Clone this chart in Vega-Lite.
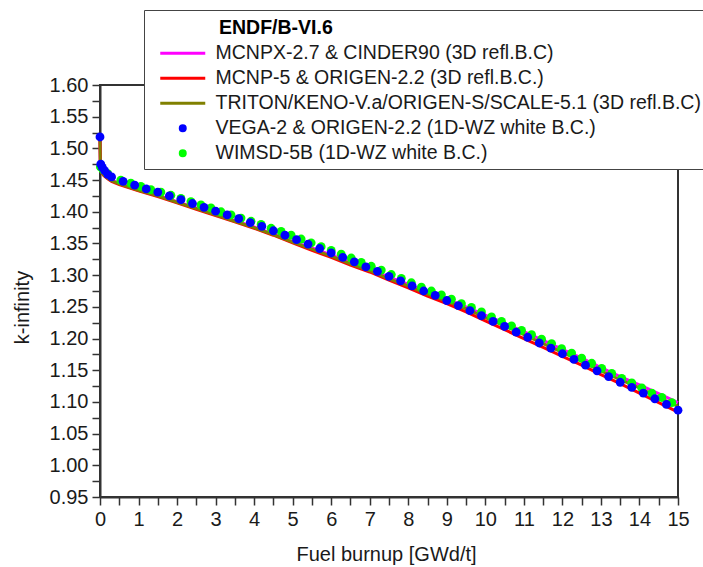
{
  "$schema": "https://vega.github.io/schema/vega-lite/v6.json",
  "width": 578,
  "height": 412,
  "autosize": {"type": "none"},
  "padding": {"left": 100, "top": 85, "right": 25, "bottom": 70},
  "background": "white",
  "config": {
    "font": "Liberation Sans",
    "view": {"stroke": "#333", "strokeWidth": 2},
    "axis": {"grid": false, "domainColor": "#333", "domainWidth": 2, "tickColor": "#333", "tickWidth": 1.5, "tickSize": 8, "labelColor": "#1a1a1a", "titleColor": "#1a1a1a", "labelFontSize": 20, "titleFontSize": 20, "titleFontWeight": "normal", "labelOverlap": false, "labelFlush": false},
    "legend": {
      "orient": "none", "legendX": 44, "legendY": -75, "direction": "vertical",
      "titleFontSize": 19.5, "titleFontWeight": "bold", "titleColor": "#000", "titlePadding": 8,
      "labelFontSize": 19.5, "labelColor": "#1a1a1a", "labelOffset": 23, "labelLimit": 700,
      "symbolOffset": 23, "symbolStrokeWidth": 3, "symbolSize": 25, "rowPadding": 4, "padding": 6,
      "strokeColor": "#444", "fillColor": "white"
    }
  },
  "data": {"values": [
    {"series": "MCNPX-2.7 & CINDER90 (3D refl.B.C)", "burnup": 0, "kinf": 1.514},
    {"series": "MCNPX-2.7 & CINDER90 (3D refl.B.C)", "burnup": 0.01, "kinf": 1.470},
    {"series": "MCNPX-2.7 & CINDER90 (3D refl.B.C)", "burnup": 0.03, "kinf": 1.465},
    {"series": "MCNPX-2.7 & CINDER90 (3D refl.B.C)", "burnup": 0.06, "kinf": 1.462},
    {"series": "MCNPX-2.7 & CINDER90 (3D refl.B.C)", "burnup": 0.1, "kinf": 1.459},
    {"series": "MCNPX-2.7 & CINDER90 (3D refl.B.C)", "burnup": 0.2, "kinf": 1.454},
    {"series": "MCNPX-2.7 & CINDER90 (3D refl.B.C)", "burnup": 0.3, "kinf": 1.450},
    {"series": "MCNPX-2.7 & CINDER90 (3D refl.B.C)", "burnup": 0.5, "kinf": 1.445},
    {"series": "MCNPX-2.7 & CINDER90 (3D refl.B.C)", "burnup": 1.0, "kinf": 1.435},
    {"series": "MCNPX-2.7 & CINDER90 (3D refl.B.C)", "burnup": 1.5, "kinf": 1.426},
    {"series": "MCNPX-2.7 & CINDER90 (3D refl.B.C)", "burnup": 2.0, "kinf": 1.416},
    {"series": "MCNPX-2.7 & CINDER90 (3D refl.B.C)", "burnup": 2.5, "kinf": 1.406},
    {"series": "MCNPX-2.7 & CINDER90 (3D refl.B.C)", "burnup": 3.0, "kinf": 1.396},
    {"series": "MCNPX-2.7 & CINDER90 (3D refl.B.C)", "burnup": 3.5, "kinf": 1.386},
    {"series": "MCNPX-2.7 & CINDER90 (3D refl.B.C)", "burnup": 4.0, "kinf": 1.376},
    {"series": "MCNPX-2.7 & CINDER90 (3D refl.B.C)", "burnup": 4.5, "kinf": 1.365},
    {"series": "MCNPX-2.7 & CINDER90 (3D refl.B.C)", "burnup": 5.0, "kinf": 1.353},
    {"series": "MCNPX-2.7 & CINDER90 (3D refl.B.C)", "burnup": 5.5, "kinf": 1.343},
    {"series": "MCNPX-2.7 & CINDER90 (3D refl.B.C)", "burnup": 6.0, "kinf": 1.332},
    {"series": "MCNPX-2.7 & CINDER90 (3D refl.B.C)", "burnup": 6.5, "kinf": 1.320},
    {"series": "MCNPX-2.7 & CINDER90 (3D refl.B.C)", "burnup": 7.0, "kinf": 1.309},
    {"series": "MCNPX-2.7 & CINDER90 (3D refl.B.C)", "burnup": 7.5, "kinf": 1.297},
    {"series": "MCNPX-2.7 & CINDER90 (3D refl.B.C)", "burnup": 8.0, "kinf": 1.286},
    {"series": "MCNPX-2.7 & CINDER90 (3D refl.B.C)", "burnup": 8.5, "kinf": 1.273},
    {"series": "MCNPX-2.7 & CINDER90 (3D refl.B.C)", "burnup": 9.0, "kinf": 1.262},
    {"series": "MCNPX-2.7 & CINDER90 (3D refl.B.C)", "burnup": 9.5, "kinf": 1.250},
    {"series": "MCNPX-2.7 & CINDER90 (3D refl.B.C)", "burnup": 10.0, "kinf": 1.237},
    {"series": "MCNPX-2.7 & CINDER90 (3D refl.B.C)", "burnup": 10.5, "kinf": 1.224},
    {"series": "MCNPX-2.7 & CINDER90 (3D refl.B.C)", "burnup": 11.0, "kinf": 1.211},
    {"series": "MCNPX-2.7 & CINDER90 (3D refl.B.C)", "burnup": 11.5, "kinf": 1.197},
    {"series": "MCNPX-2.7 & CINDER90 (3D refl.B.C)", "burnup": 12.0, "kinf": 1.183},
    {"series": "MCNPX-2.7 & CINDER90 (3D refl.B.C)", "burnup": 12.5, "kinf": 1.169},
    {"series": "MCNPX-2.7 & CINDER90 (3D refl.B.C)", "burnup": 13.0, "kinf": 1.154},
    {"series": "MCNPX-2.7 & CINDER90 (3D refl.B.C)", "burnup": 13.5, "kinf": 1.140},
    {"series": "MCNPX-2.7 & CINDER90 (3D refl.B.C)", "burnup": 14.0, "kinf": 1.127},
    {"series": "MCNPX-2.7 & CINDER90 (3D refl.B.C)", "burnup": 14.5, "kinf": 1.113},
    {"series": "MCNPX-2.7 & CINDER90 (3D refl.B.C)", "burnup": 15.0, "kinf": 1.099},

    {"series": "MCNP-5 & ORIGEN-2.2 (3D refl.B.C.)", "burnup": 0, "kinf": 1.512},
    {"series": "MCNP-5 & ORIGEN-2.2 (3D refl.B.C.)", "burnup": 0.01, "kinf": 1.469},
    {"series": "MCNP-5 & ORIGEN-2.2 (3D refl.B.C.)", "burnup": 0.03, "kinf": 1.463},
    {"series": "MCNP-5 & ORIGEN-2.2 (3D refl.B.C.)", "burnup": 0.06, "kinf": 1.460},
    {"series": "MCNP-5 & ORIGEN-2.2 (3D refl.B.C.)", "burnup": 0.1, "kinf": 1.457},
    {"series": "MCNP-5 & ORIGEN-2.2 (3D refl.B.C.)", "burnup": 0.2, "kinf": 1.452},
    {"series": "MCNP-5 & ORIGEN-2.2 (3D refl.B.C.)", "burnup": 0.3, "kinf": 1.448},
    {"series": "MCNP-5 & ORIGEN-2.2 (3D refl.B.C.)", "burnup": 0.5, "kinf": 1.443},
    {"series": "MCNP-5 & ORIGEN-2.2 (3D refl.B.C.)", "burnup": 1.0, "kinf": 1.433},
    {"series": "MCNP-5 & ORIGEN-2.2 (3D refl.B.C.)", "burnup": 1.5, "kinf": 1.424},
    {"series": "MCNP-5 & ORIGEN-2.2 (3D refl.B.C.)", "burnup": 2.0, "kinf": 1.414},
    {"series": "MCNP-5 & ORIGEN-2.2 (3D refl.B.C.)", "burnup": 2.5, "kinf": 1.404},
    {"series": "MCNP-5 & ORIGEN-2.2 (3D refl.B.C.)", "burnup": 3.0, "kinf": 1.394},
    {"series": "MCNP-5 & ORIGEN-2.2 (3D refl.B.C.)", "burnup": 3.5, "kinf": 1.384},
    {"series": "MCNP-5 & ORIGEN-2.2 (3D refl.B.C.)", "burnup": 4.0, "kinf": 1.374},
    {"series": "MCNP-5 & ORIGEN-2.2 (3D refl.B.C.)", "burnup": 4.5, "kinf": 1.363},
    {"series": "MCNP-5 & ORIGEN-2.2 (3D refl.B.C.)", "burnup": 5.0, "kinf": 1.351},
    {"series": "MCNP-5 & ORIGEN-2.2 (3D refl.B.C.)", "burnup": 5.5, "kinf": 1.339},
    {"series": "MCNP-5 & ORIGEN-2.2 (3D refl.B.C.)", "burnup": 6.0, "kinf": 1.328},
    {"series": "MCNP-5 & ORIGEN-2.2 (3D refl.B.C.)", "burnup": 6.5, "kinf": 1.316},
    {"series": "MCNP-5 & ORIGEN-2.2 (3D refl.B.C.)", "burnup": 7.0, "kinf": 1.305},
    {"series": "MCNP-5 & ORIGEN-2.2 (3D refl.B.C.)", "burnup": 7.5, "kinf": 1.292},
    {"series": "MCNP-5 & ORIGEN-2.2 (3D refl.B.C.)", "burnup": 8.0, "kinf": 1.280},
    {"series": "MCNP-5 & ORIGEN-2.2 (3D refl.B.C.)", "burnup": 8.5, "kinf": 1.267},
    {"series": "MCNP-5 & ORIGEN-2.2 (3D refl.B.C.)", "burnup": 9.0, "kinf": 1.255},
    {"series": "MCNP-5 & ORIGEN-2.2 (3D refl.B.C.)", "burnup": 9.5, "kinf": 1.242},
    {"series": "MCNP-5 & ORIGEN-2.2 (3D refl.B.C.)", "burnup": 10.0, "kinf": 1.228},
    {"series": "MCNP-5 & ORIGEN-2.2 (3D refl.B.C.)", "burnup": 10.5, "kinf": 1.214},
    {"series": "MCNP-5 & ORIGEN-2.2 (3D refl.B.C.)", "burnup": 11.0, "kinf": 1.200},
    {"series": "MCNP-5 & ORIGEN-2.2 (3D refl.B.C.)", "burnup": 11.5, "kinf": 1.186},
    {"series": "MCNP-5 & ORIGEN-2.2 (3D refl.B.C.)", "burnup": 12.0, "kinf": 1.172},
    {"series": "MCNP-5 & ORIGEN-2.2 (3D refl.B.C.)", "burnup": 12.5, "kinf": 1.158},
    {"series": "MCNP-5 & ORIGEN-2.2 (3D refl.B.C.)", "burnup": 13.0, "kinf": 1.143},
    {"series": "MCNP-5 & ORIGEN-2.2 (3D refl.B.C.)", "burnup": 13.5, "kinf": 1.129},
    {"series": "MCNP-5 & ORIGEN-2.2 (3D refl.B.C.)", "burnup": 14.0, "kinf": 1.114},
    {"series": "MCNP-5 & ORIGEN-2.2 (3D refl.B.C.)", "burnup": 14.5, "kinf": 1.099},
    {"series": "MCNP-5 & ORIGEN-2.2 (3D refl.B.C.)", "burnup": 15.0, "kinf": 1.084},

    {"series": "TRITON/KENO-V.a/ORIGEN-S/SCALE-5.1 (3D refl.B.C)", "burnup": 0, "kinf": 1.513},
    {"series": "TRITON/KENO-V.a/ORIGEN-S/SCALE-5.1 (3D refl.B.C)", "burnup": 0.01, "kinf": 1.470},
    {"series": "TRITON/KENO-V.a/ORIGEN-S/SCALE-5.1 (3D refl.B.C)", "burnup": 0.03, "kinf": 1.464},
    {"series": "TRITON/KENO-V.a/ORIGEN-S/SCALE-5.1 (3D refl.B.C)", "burnup": 0.06, "kinf": 1.461},
    {"series": "TRITON/KENO-V.a/ORIGEN-S/SCALE-5.1 (3D refl.B.C)", "burnup": 0.1, "kinf": 1.458},
    {"series": "TRITON/KENO-V.a/ORIGEN-S/SCALE-5.1 (3D refl.B.C)", "burnup": 0.2, "kinf": 1.453},
    {"series": "TRITON/KENO-V.a/ORIGEN-S/SCALE-5.1 (3D refl.B.C)", "burnup": 0.3, "kinf": 1.449},
    {"series": "TRITON/KENO-V.a/ORIGEN-S/SCALE-5.1 (3D refl.B.C)", "burnup": 0.5, "kinf": 1.444},
    {"series": "TRITON/KENO-V.a/ORIGEN-S/SCALE-5.1 (3D refl.B.C)", "burnup": 1.0, "kinf": 1.434},
    {"series": "TRITON/KENO-V.a/ORIGEN-S/SCALE-5.1 (3D refl.B.C)", "burnup": 1.5, "kinf": 1.425},
    {"series": "TRITON/KENO-V.a/ORIGEN-S/SCALE-5.1 (3D refl.B.C)", "burnup": 2.0, "kinf": 1.415},
    {"series": "TRITON/KENO-V.a/ORIGEN-S/SCALE-5.1 (3D refl.B.C)", "burnup": 2.5, "kinf": 1.405},
    {"series": "TRITON/KENO-V.a/ORIGEN-S/SCALE-5.1 (3D refl.B.C)", "burnup": 3.0, "kinf": 1.395},
    {"series": "TRITON/KENO-V.a/ORIGEN-S/SCALE-5.1 (3D refl.B.C)", "burnup": 3.5, "kinf": 1.385},
    {"series": "TRITON/KENO-V.a/ORIGEN-S/SCALE-5.1 (3D refl.B.C)", "burnup": 4.0, "kinf": 1.375},
    {"series": "TRITON/KENO-V.a/ORIGEN-S/SCALE-5.1 (3D refl.B.C)", "burnup": 4.5, "kinf": 1.364},
    {"series": "TRITON/KENO-V.a/ORIGEN-S/SCALE-5.1 (3D refl.B.C)", "burnup": 5.0, "kinf": 1.352},
    {"series": "TRITON/KENO-V.a/ORIGEN-S/SCALE-5.1 (3D refl.B.C)", "burnup": 5.5, "kinf": 1.341},
    {"series": "TRITON/KENO-V.a/ORIGEN-S/SCALE-5.1 (3D refl.B.C)", "burnup": 6.0, "kinf": 1.330},
    {"series": "TRITON/KENO-V.a/ORIGEN-S/SCALE-5.1 (3D refl.B.C)", "burnup": 6.5, "kinf": 1.318},
    {"series": "TRITON/KENO-V.a/ORIGEN-S/SCALE-5.1 (3D refl.B.C)", "burnup": 7.0, "kinf": 1.307},
    {"series": "TRITON/KENO-V.a/ORIGEN-S/SCALE-5.1 (3D refl.B.C)", "burnup": 7.5, "kinf": 1.294},
    {"series": "TRITON/KENO-V.a/ORIGEN-S/SCALE-5.1 (3D refl.B.C)", "burnup": 8.0, "kinf": 1.283},
    {"series": "TRITON/KENO-V.a/ORIGEN-S/SCALE-5.1 (3D refl.B.C)", "burnup": 8.5, "kinf": 1.270},
    {"series": "TRITON/KENO-V.a/ORIGEN-S/SCALE-5.1 (3D refl.B.C)", "burnup": 9.0, "kinf": 1.259},
    {"series": "TRITON/KENO-V.a/ORIGEN-S/SCALE-5.1 (3D refl.B.C)", "burnup": 9.5, "kinf": 1.247},
    {"series": "TRITON/KENO-V.a/ORIGEN-S/SCALE-5.1 (3D refl.B.C)", "burnup": 10.0, "kinf": 1.233},
    {"series": "TRITON/KENO-V.a/ORIGEN-S/SCALE-5.1 (3D refl.B.C)", "burnup": 10.5, "kinf": 1.220},
    {"series": "TRITON/KENO-V.a/ORIGEN-S/SCALE-5.1 (3D refl.B.C)", "burnup": 11.0, "kinf": 1.206},
    {"series": "TRITON/KENO-V.a/ORIGEN-S/SCALE-5.1 (3D refl.B.C)", "burnup": 11.5, "kinf": 1.192},
    {"series": "TRITON/KENO-V.a/ORIGEN-S/SCALE-5.1 (3D refl.B.C)", "burnup": 12.0, "kinf": 1.178},
    {"series": "TRITON/KENO-V.a/ORIGEN-S/SCALE-5.1 (3D refl.B.C)", "burnup": 12.5, "kinf": 1.164},
    {"series": "TRITON/KENO-V.a/ORIGEN-S/SCALE-5.1 (3D refl.B.C)", "burnup": 13.0, "kinf": 1.149},
    {"series": "TRITON/KENO-V.a/ORIGEN-S/SCALE-5.1 (3D refl.B.C)", "burnup": 13.5, "kinf": 1.135},
    {"series": "TRITON/KENO-V.a/ORIGEN-S/SCALE-5.1 (3D refl.B.C)", "burnup": 14.0, "kinf": 1.122},
    {"series": "TRITON/KENO-V.a/ORIGEN-S/SCALE-5.1 (3D refl.B.C)", "burnup": 14.5, "kinf": 1.107},
    {"series": "TRITON/KENO-V.a/ORIGEN-S/SCALE-5.1 (3D refl.B.C)", "burnup": 15.0, "kinf": 1.093},

    {"series": "WIMSD-5B (1D-WZ white B.C.)", "burnup": 0.01, "kinf": 1.471},
    {"series": "WIMSD-5B (1D-WZ white B.C.)", "burnup": 0.08, "kinf": 1.466},
    {"series": "WIMSD-5B (1D-WZ white B.C.)", "burnup": 0.2, "kinf": 1.460},
    {"series": "WIMSD-5B (1D-WZ white B.C.)", "burnup": 0.54, "kinf": 1.450},
    {"series": "WIMSD-5B (1D-WZ white B.C.)", "burnup": 0.80, "kinf": 1.445},
    {"series": "WIMSD-5B (1D-WZ white B.C.)", "burnup": 1.06, "kinf": 1.440},
    {"series": "WIMSD-5B (1D-WZ white B.C.)", "burnup": 1.32, "kinf": 1.435},
    {"series": "WIMSD-5B (1D-WZ white B.C.)", "burnup": 1.58, "kinf": 1.431},
    {"series": "WIMSD-5B (1D-WZ white B.C.)", "burnup": 1.84, "kinf": 1.426},
    {"series": "WIMSD-5B (1D-WZ white B.C.)", "burnup": 2.10, "kinf": 1.421},
    {"series": "WIMSD-5B (1D-WZ white B.C.)", "burnup": 2.36, "kinf": 1.416},
    {"series": "WIMSD-5B (1D-WZ white B.C.)", "burnup": 2.62, "kinf": 1.411},
    {"series": "WIMSD-5B (1D-WZ white B.C.)", "burnup": 2.88, "kinf": 1.406},
    {"series": "WIMSD-5B (1D-WZ white B.C.)", "burnup": 3.14, "kinf": 1.400},
    {"series": "WIMSD-5B (1D-WZ white B.C.)", "burnup": 3.40, "kinf": 1.395},
    {"series": "WIMSD-5B (1D-WZ white B.C.)", "burnup": 3.66, "kinf": 1.390},
    {"series": "WIMSD-5B (1D-WZ white B.C.)", "burnup": 3.92, "kinf": 1.385},
    {"series": "WIMSD-5B (1D-WZ white B.C.)", "burnup": 4.18, "kinf": 1.380},
    {"series": "WIMSD-5B (1D-WZ white B.C.)", "burnup": 4.44, "kinf": 1.374},
    {"series": "WIMSD-5B (1D-WZ white B.C.)", "burnup": 4.70, "kinf": 1.369},
    {"series": "WIMSD-5B (1D-WZ white B.C.)", "burnup": 4.96, "kinf": 1.363},
    {"series": "WIMSD-5B (1D-WZ white B.C.)", "burnup": 5.22, "kinf": 1.357},
    {"series": "WIMSD-5B (1D-WZ white B.C.)", "burnup": 5.48, "kinf": 1.351},
    {"series": "WIMSD-5B (1D-WZ white B.C.)", "burnup": 5.74, "kinf": 1.345},
    {"series": "WIMSD-5B (1D-WZ white B.C.)", "burnup": 6.00, "kinf": 1.339},
    {"series": "WIMSD-5B (1D-WZ white B.C.)", "burnup": 6.26, "kinf": 1.333},
    {"series": "WIMSD-5B (1D-WZ white B.C.)", "burnup": 6.52, "kinf": 1.327},
    {"series": "WIMSD-5B (1D-WZ white B.C.)", "burnup": 6.78, "kinf": 1.320},
    {"series": "WIMSD-5B (1D-WZ white B.C.)", "burnup": 7.04, "kinf": 1.314},
    {"series": "WIMSD-5B (1D-WZ white B.C.)", "burnup": 7.30, "kinf": 1.308},
    {"series": "WIMSD-5B (1D-WZ white B.C.)", "burnup": 7.56, "kinf": 1.301},
    {"series": "WIMSD-5B (1D-WZ white B.C.)", "burnup": 7.82, "kinf": 1.295},
    {"series": "WIMSD-5B (1D-WZ white B.C.)", "burnup": 8.08, "kinf": 1.288},
    {"series": "WIMSD-5B (1D-WZ white B.C.)", "burnup": 8.34, "kinf": 1.281},
    {"series": "WIMSD-5B (1D-WZ white B.C.)", "burnup": 8.60, "kinf": 1.275},
    {"series": "WIMSD-5B (1D-WZ white B.C.)", "burnup": 8.86, "kinf": 1.269},
    {"series": "WIMSD-5B (1D-WZ white B.C.)", "burnup": 9.12, "kinf": 1.262},
    {"series": "WIMSD-5B (1D-WZ white B.C.)", "burnup": 9.38, "kinf": 1.255},
    {"series": "WIMSD-5B (1D-WZ white B.C.)", "burnup": 9.64, "kinf": 1.249},
    {"series": "WIMSD-5B (1D-WZ white B.C.)", "burnup": 9.90, "kinf": 1.242},
    {"series": "WIMSD-5B (1D-WZ white B.C.)", "burnup": 10.16, "kinf": 1.234},
    {"series": "WIMSD-5B (1D-WZ white B.C.)", "burnup": 10.42, "kinf": 1.227},
    {"series": "WIMSD-5B (1D-WZ white B.C.)", "burnup": 10.68, "kinf": 1.220},
    {"series": "WIMSD-5B (1D-WZ white B.C.)", "burnup": 10.94, "kinf": 1.213},
    {"series": "WIMSD-5B (1D-WZ white B.C.)", "burnup": 11.20, "kinf": 1.206},
    {"series": "WIMSD-5B (1D-WZ white B.C.)", "burnup": 11.46, "kinf": 1.199},
    {"series": "WIMSD-5B (1D-WZ white B.C.)", "burnup": 11.72, "kinf": 1.192},
    {"series": "WIMSD-5B (1D-WZ white B.C.)", "burnup": 11.98, "kinf": 1.184},
    {"series": "WIMSD-5B (1D-WZ white B.C.)", "burnup": 12.24, "kinf": 1.177},
    {"series": "WIMSD-5B (1D-WZ white B.C.)", "burnup": 12.50, "kinf": 1.169},
    {"series": "WIMSD-5B (1D-WZ white B.C.)", "burnup": 12.76, "kinf": 1.161},
    {"series": "WIMSD-5B (1D-WZ white B.C.)", "burnup": 13.02, "kinf": 1.153},
    {"series": "WIMSD-5B (1D-WZ white B.C.)", "burnup": 13.28, "kinf": 1.145},
    {"series": "WIMSD-5B (1D-WZ white B.C.)", "burnup": 13.54, "kinf": 1.137},
    {"series": "WIMSD-5B (1D-WZ white B.C.)", "burnup": 13.80, "kinf": 1.130},
    {"series": "WIMSD-5B (1D-WZ white B.C.)", "burnup": 14.06, "kinf": 1.122},
    {"series": "WIMSD-5B (1D-WZ white B.C.)", "burnup": 14.32, "kinf": 1.114},
    {"series": "WIMSD-5B (1D-WZ white B.C.)", "burnup": 14.58, "kinf": 1.107},
    {"series": "WIMSD-5B (1D-WZ white B.C.)", "burnup": 14.84, "kinf": 1.099},

    {"series": "VEGA-2 & ORIGEN-2.2 (1D-WZ white B.C.)", "burnup": 0, "kinf": 1.518},
    {"series": "VEGA-2 & ORIGEN-2.2 (1D-WZ white B.C.)", "burnup": 0.02, "kinf": 1.475},
    {"series": "VEGA-2 & ORIGEN-2.2 (1D-WZ white B.C.)", "burnup": 0.06, "kinf": 1.470},
    {"series": "VEGA-2 & ORIGEN-2.2 (1D-WZ white B.C.)", "burnup": 0.12, "kinf": 1.465},
    {"series": "VEGA-2 & ORIGEN-2.2 (1D-WZ white B.C.)", "burnup": 0.2, "kinf": 1.459},
    {"series": "VEGA-2 & ORIGEN-2.2 (1D-WZ white B.C.)", "burnup": 0.3, "kinf": 1.455},
    {"series": "VEGA-2 & ORIGEN-2.2 (1D-WZ white B.C.)", "burnup": 0.6, "kinf": 1.448},
    {"series": "VEGA-2 & ORIGEN-2.2 (1D-WZ white B.C.)", "burnup": 0.9, "kinf": 1.442},
    {"series": "VEGA-2 & ORIGEN-2.2 (1D-WZ white B.C.)", "burnup": 1.2, "kinf": 1.436},
    {"series": "VEGA-2 & ORIGEN-2.2 (1D-WZ white B.C.)", "burnup": 1.5, "kinf": 1.431},
    {"series": "VEGA-2 & ORIGEN-2.2 (1D-WZ white B.C.)", "burnup": 1.8, "kinf": 1.425},
    {"series": "VEGA-2 & ORIGEN-2.2 (1D-WZ white B.C.)", "burnup": 2.1, "kinf": 1.419},
    {"series": "VEGA-2 & ORIGEN-2.2 (1D-WZ white B.C.)", "burnup": 2.4, "kinf": 1.413},
    {"series": "VEGA-2 & ORIGEN-2.2 (1D-WZ white B.C.)", "burnup": 2.7, "kinf": 1.407},
    {"series": "VEGA-2 & ORIGEN-2.2 (1D-WZ white B.C.)", "burnup": 3.0, "kinf": 1.401},
    {"series": "VEGA-2 & ORIGEN-2.2 (1D-WZ white B.C.)", "burnup": 3.3, "kinf": 1.395},
    {"series": "VEGA-2 & ORIGEN-2.2 (1D-WZ white B.C.)", "burnup": 3.6, "kinf": 1.389},
    {"series": "VEGA-2 & ORIGEN-2.2 (1D-WZ white B.C.)", "burnup": 3.9, "kinf": 1.383},
    {"series": "VEGA-2 & ORIGEN-2.2 (1D-WZ white B.C.)", "burnup": 4.2, "kinf": 1.377},
    {"series": "VEGA-2 & ORIGEN-2.2 (1D-WZ white B.C.)", "burnup": 4.5, "kinf": 1.370},
    {"series": "VEGA-2 & ORIGEN-2.2 (1D-WZ white B.C.)", "burnup": 4.8, "kinf": 1.363},
    {"series": "VEGA-2 & ORIGEN-2.2 (1D-WZ white B.C.)", "burnup": 5.1, "kinf": 1.356},
    {"series": "VEGA-2 & ORIGEN-2.2 (1D-WZ white B.C.)", "burnup": 5.4, "kinf": 1.349},
    {"series": "VEGA-2 & ORIGEN-2.2 (1D-WZ white B.C.)", "burnup": 5.7, "kinf": 1.342},
    {"series": "VEGA-2 & ORIGEN-2.2 (1D-WZ white B.C.)", "burnup": 6.0, "kinf": 1.335},
    {"series": "VEGA-2 & ORIGEN-2.2 (1D-WZ white B.C.)", "burnup": 6.3, "kinf": 1.328},
    {"series": "VEGA-2 & ORIGEN-2.2 (1D-WZ white B.C.)", "burnup": 6.6, "kinf": 1.321},
    {"series": "VEGA-2 & ORIGEN-2.2 (1D-WZ white B.C.)", "burnup": 6.9, "kinf": 1.313},
    {"series": "VEGA-2 & ORIGEN-2.2 (1D-WZ white B.C.)", "burnup": 7.2, "kinf": 1.306},
    {"series": "VEGA-2 & ORIGEN-2.2 (1D-WZ white B.C.)", "burnup": 7.5, "kinf": 1.298},
    {"series": "VEGA-2 & ORIGEN-2.2 (1D-WZ white B.C.)", "burnup": 7.8, "kinf": 1.291},
    {"series": "VEGA-2 & ORIGEN-2.2 (1D-WZ white B.C.)", "burnup": 8.1, "kinf": 1.283},
    {"series": "VEGA-2 & ORIGEN-2.2 (1D-WZ white B.C.)", "burnup": 8.4, "kinf": 1.275},
    {"series": "VEGA-2 & ORIGEN-2.2 (1D-WZ white B.C.)", "burnup": 8.7, "kinf": 1.268},
    {"series": "VEGA-2 & ORIGEN-2.2 (1D-WZ white B.C.)", "burnup": 9.0, "kinf": 1.260},
    {"series": "VEGA-2 & ORIGEN-2.2 (1D-WZ white B.C.)", "burnup": 9.3, "kinf": 1.252},
    {"series": "VEGA-2 & ORIGEN-2.2 (1D-WZ white B.C.)", "burnup": 9.6, "kinf": 1.244},
    {"series": "VEGA-2 & ORIGEN-2.2 (1D-WZ white B.C.)", "burnup": 9.9, "kinf": 1.236},
    {"series": "VEGA-2 & ORIGEN-2.2 (1D-WZ white B.C.)", "burnup": 10.2, "kinf": 1.227},
    {"series": "VEGA-2 & ORIGEN-2.2 (1D-WZ white B.C.)", "burnup": 10.5, "kinf": 1.219},
    {"series": "VEGA-2 & ORIGEN-2.2 (1D-WZ white B.C.)", "burnup": 10.8, "kinf": 1.210},
    {"series": "VEGA-2 & ORIGEN-2.2 (1D-WZ white B.C.)", "burnup": 11.1, "kinf": 1.202},
    {"series": "VEGA-2 & ORIGEN-2.2 (1D-WZ white B.C.)", "burnup": 11.4, "kinf": 1.193},
    {"series": "VEGA-2 & ORIGEN-2.2 (1D-WZ white B.C.)", "burnup": 11.7, "kinf": 1.185},
    {"series": "VEGA-2 & ORIGEN-2.2 (1D-WZ white B.C.)", "burnup": 12.0, "kinf": 1.176},
    {"series": "VEGA-2 & ORIGEN-2.2 (1D-WZ white B.C.)", "burnup": 12.3, "kinf": 1.167},
    {"series": "VEGA-2 & ORIGEN-2.2 (1D-WZ white B.C.)", "burnup": 12.6, "kinf": 1.158},
    {"series": "VEGA-2 & ORIGEN-2.2 (1D-WZ white B.C.)", "burnup": 12.9, "kinf": 1.149},
    {"series": "VEGA-2 & ORIGEN-2.2 (1D-WZ white B.C.)", "burnup": 13.2, "kinf": 1.140},
    {"series": "VEGA-2 & ORIGEN-2.2 (1D-WZ white B.C.)", "burnup": 13.5, "kinf": 1.131},
    {"series": "VEGA-2 & ORIGEN-2.2 (1D-WZ white B.C.)", "burnup": 13.8, "kinf": 1.123},
    {"series": "VEGA-2 & ORIGEN-2.2 (1D-WZ white B.C.)", "burnup": 14.1, "kinf": 1.114},
    {"series": "VEGA-2 & ORIGEN-2.2 (1D-WZ white B.C.)", "burnup": 14.4, "kinf": 1.105},
    {"series": "VEGA-2 & ORIGEN-2.2 (1D-WZ white B.C.)", "burnup": 14.7, "kinf": 1.096},
    {"series": "VEGA-2 & ORIGEN-2.2 (1D-WZ white B.C.)", "burnup": 15.0, "kinf": 1.087}
  ]},
  "encoding": {
    "x": {"field": "burnup", "type": "quantitative",
      "scale": {"domain": [0, 15], "nice": false, "zero": false},
      "axis": {
        "title": "Fuel burnup [GWd/t]",
        "values": [0,0.5,1,1.5,2,2.5,3,3.5,4,4.5,5,5.5,6,6.5,7,7.5,8,8.5,9,9.5,10,10.5,11,11.5,12,12.5,13,13.5,14,14.5,15],
        "labelExpr": "datum.value % 1 === 0 ? format(datum.value, 'd') : ''",
        "labelPadding": 4,
        "titleX": 286, "titleY": 63, "titleAlign": "center", "titleBaseline": "alphabetic",
        "encode": {"ticks": {"update": {"y2": {"signal": "datum.value % 1 === 0 ? 8 : 4"}}}}
      }},
    "y": {"field": "kinf", "type": "quantitative",
      "scale": {"domain": [0.95, 1.6], "nice": false, "zero": false},
      "axis": {
        "title": "k-infinity",
        "values": [0.95,0.975,1.0,1.025,1.05,1.075,1.1,1.125,1.15,1.175,1.2,1.225,1.25,1.275,1.3,1.325,1.35,1.375,1.4,1.425,1.45,1.475,1.5,1.525,1.55,1.575,1.6],
        "labelExpr": "abs(datum.value*20 - round(datum.value*20)) < 0.001 ? format(datum.value, '.2f') : ''",
        "labelPadding": 4,
        "titleX": -72, "titleY": 222, "titleAlign": "center", "titleBaseline": "alphabetic", "titleAngle": -90,
        "encode": {"ticks": {"update": {"x2": {"signal": "abs(datum.value*20 - round(datum.value*20)) < 0.001 ? -8 : -4"}}}}
      }},
    "color": {"field": "series", "type": "nominal",
      "scale": {
        "domain": ["MCNPX-2.7 & CINDER90 (3D refl.B.C)", "MCNP-5 & ORIGEN-2.2 (3D refl.B.C.)", "TRITON/KENO-V.a/ORIGEN-S/SCALE-5.1 (3D refl.B.C)", "VEGA-2 & ORIGEN-2.2 (1D-WZ white B.C.)", "WIMSD-5B (1D-WZ white B.C.)"],
        "range": ["#ff00ff", "#ff0000", "#808000", "#0000ff", "#00ff00"]
      },
      "legend": {
        "title": "ENDF/B-VI.6",
        "encode": {
          "title": {"update": {"dx": {"value": 69}, "dy": {"value": 3}}},
          "symbols": {"update": {
            "fill": {"scale": "color", "field": "value"},
            "stroke": {"scale": "color", "field": "value"},
            "strokeWidth": {"value": 3},
            "opacity": {"value": 1}
          }}
        }
      }}
  },
  "layer": [
    {"transform": [{"filter": "datum.series === 'MCNPX-2.7 & CINDER90 (3D refl.B.C)'"}], "mark": {"type": "line", "strokeWidth": 3}},
    {"transform": [{"filter": "datum.series === 'MCNP-5 & ORIGEN-2.2 (3D refl.B.C.)'"}], "mark": {"type": "line", "strokeWidth": 3}},
    {"transform": [{"filter": "datum.series === 'TRITON/KENO-V.a/ORIGEN-S/SCALE-5.1 (3D refl.B.C)'"}], "mark": {"type": "line", "strokeWidth": 3}},
    {"transform": [{"filter": "datum.series === 'WIMSD-5B (1D-WZ white B.C.)'"}], "mark": {"type": "point", "filled": true, "size": 78, "opacity": 1, "strokeWidth": 0},
      "encoding": {"shape": {"field": "series", "type": "nominal",
        "scale": {"domain": ["MCNPX-2.7 & CINDER90 (3D refl.B.C)", "MCNP-5 & ORIGEN-2.2 (3D refl.B.C.)", "TRITON/KENO-V.a/ORIGEN-S/SCALE-5.1 (3D refl.B.C)", "VEGA-2 & ORIGEN-2.2 (1D-WZ white B.C.)", "WIMSD-5B (1D-WZ white B.C.)"],
          "range": ["M-9,0H9", "M-9,0H9", "M-9,0H9", "circle", "circle"]},
        "legend": {"title": "ENDF/B-VI.6"}}}},
    {"transform": [{"filter": "datum.series === 'VEGA-2 & ORIGEN-2.2 (1D-WZ white B.C.)'"}], "mark": {"type": "point", "filled": true, "size": 78, "opacity": 1, "strokeWidth": 0},
      "encoding": {"shape": {"field": "series", "type": "nominal",
        "scale": {"domain": ["MCNPX-2.7 & CINDER90 (3D refl.B.C)", "MCNP-5 & ORIGEN-2.2 (3D refl.B.C.)", "TRITON/KENO-V.a/ORIGEN-S/SCALE-5.1 (3D refl.B.C)", "VEGA-2 & ORIGEN-2.2 (1D-WZ white B.C.)", "WIMSD-5B (1D-WZ white B.C.)"],
          "range": ["M-9,0H9", "M-9,0H9", "M-9,0H9", "circle", "circle"]},
        "legend": {"title": "ENDF/B-VI.6"}}}}
  ]
}
